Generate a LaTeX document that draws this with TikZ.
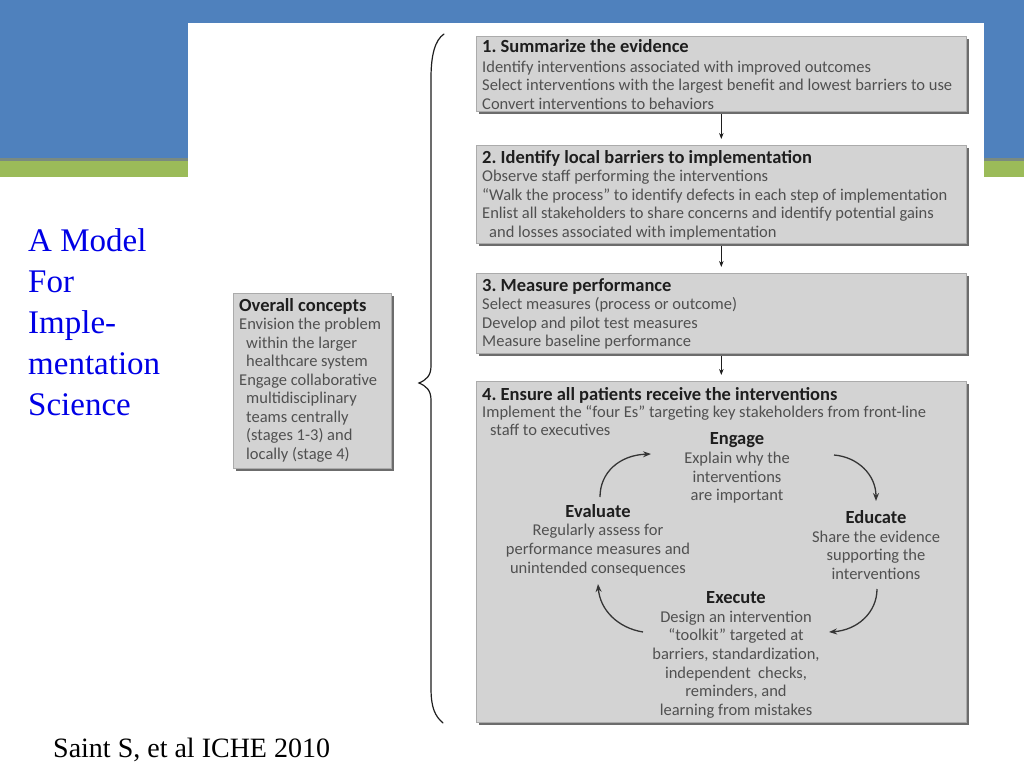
\documentclass[tikz,border=0pt]{standalone}
\usepackage{fontspec}
\setmainfont{Liberation Serif}
\newfontfamily\bx{Carlito}
\usetikzlibrary{shadows,arrows.meta}
\definecolor{bannerblue}{HTML}{4F81BD}
\definecolor{bannergreen}{HTML}{9BBB59}
\definecolor{bannergrey}{HTML}{7A8A80}
\definecolor{boxfill}{HTML}{D3D3D3}
\definecolor{boxline}{HTML}{ABABAB}
\definecolor{boxshadow}{HTML}{6C6C6C}
\definecolor{bodytext}{HTML}{505050}
\definecolor{headtext}{HTML}{1E1E1E}
\definecolor{titleblue}{HTML}{0000E6}
\frenchspacing
\begin{document}
\begin{tikzpicture}[x=1pt,y=-1pt,
  boxbase/.style={draw=boxline, fill=boxfill, line width=0.6pt, anchor=north west, inner sep=0pt,
    drop shadow={shadow xshift=2.5pt, shadow yshift=-2.5pt, fill=boxshadow, opacity=1}},
  boxtext/.style={anchor=north west, align=left, inner sep=0pt,
    font=\bx\fontsize{16.5}{18.5}\selectfont, text=bodytext},
  cyctext/.style={align=center, inner sep=0pt,
    font=\bx\fontsize{16.5}{18.7}\selectfont, text=bodytext},
  flow/.style={-{Stealth[length=6pt,width=4.5pt]}, line width=0.9pt, draw=headtext,
    shorten <=2.5pt, shorten >=6pt},
  cyc/.style={-{Stealth[length=8pt,width=6pt]}, line width=1.3pt, draw=headtext!90},
  brace/.style={line width=1.2pt, draw=headtext, line cap=round},
]
\newcommand{\hd}[1]{{\color{headtext}\bfseries\fontsize{18.5}{18.5}\selectfont #1}}
\useasboundingbox (0,0) rectangle (1024,768);
% slide background
\fill[white] (0,0) rectangle (1024,768);
\fill[bannerblue] (0,0) rectangle (1024,158);
\fill[bannergrey] (0,158) rectangle (1024,161);
\fill[bannergreen] (0,161) rectangle (1024,177);
\fill[white] (188,23) rectangle (984,768);

% slide title and citation
\node[anchor=north west, inner sep=0pt, align=left, text=titleblue,
  font=\fontsize{33}{41}\selectfont] (title) at (28,228.5)
  {A Model\\For\\Imple-\\mentation\\Science};
\node[anchor=base west, inner sep=0pt, font=\fontsize{28}{32}\selectfont] (cite) at (53,757)
  {Saint S, et al ICHE 2010};

% stage boxes
\node[boxbase, minimum width=490pt, minimum height=75pt] (s1) at (476,36) {};
\node[boxtext] (s1t) at (482,39)
  {\hd{1. Summarize the evidence}\\[1.5pt]
   Identify interventions associated with improved outcomes\\
   Select interventions with the largest benefit and lowest barriers to use\\
   Convert interventions to behaviors};
\node[boxbase, minimum width=490pt, minimum height=98pt] (s2) at (476,145) {};
\node[boxtext] (s2t) at (482,150)
  {\hd{2. Identify local barriers to implementation}\\
   Observe staff performing the interventions\\
   “Walk the process” to identify defects in each step of implementation\\
   Enlist all stakeholders to share concerns and identify potential gains\\
   \hspace*{7pt}and losses associated with implementation};
\node[boxbase, minimum width=490pt, minimum height=80pt] (s3) at (476,273) {};
\node[boxtext] (s3t) at (482,278)
  {\hd{3. Measure performance}\\
   Select measures (process or outcome)\\
   Develop and pilot test measures\\
   Measure baseline performance};
\node[boxbase, minimum width=490pt, minimum height=341pt] (s4) at (476,381) {};
\node[boxtext] (s4t) at (482,387)
  {\hd{4. Ensure all patients receive the interventions}\\[-1pt]
   Implement the “four Es” targeting key stakeholders from front-line\\[-1pt]
   \hspace*{8pt}staff to executives};

% overall concepts
\node[boxbase, minimum width=158pt, minimum height=175pt] (oc) at (233,293) {};
\node[boxtext] (oct) at (239,298)
  {\hd{Overall concepts}\\
   Envision the problem\\
   \hspace*{7pt}within the larger\\
   \hspace*{7pt}healthcare system\\
   Engage collaborative\\
   \hspace*{7pt}multidisciplinary\\
   \hspace*{7pt}teams centrally\\
   \hspace*{7pt}(stages 1-3) and\\
   \hspace*{7pt}locally (stage 4)};

% flow arrows between stages
\draw[flow] (s1.south) -- (s2.north);
\draw[flow] (s2.south) -- (s3.north);
\draw[flow] (s3.south) -- (s4.north);

% brace
\draw[brace] (444,34) .. controls (435,40) and (431,55) .. (431,78)
  -- (431,366) .. controls (431,376) and (426,380) .. (419,383)
  .. controls (426,386) and (431,390) .. (431,400)
  -- (431,688) .. controls (431,708) and (435,716) .. (443,723);

% four Es cycle
\node[cyctext] (engage) at (737,468)
  {\hd{Engage}\\Explain why the\\interventions\\are important};
\node[cyctext] (evaluate) at (598,540)
  {\hd{Evaluate}\\Regularly assess for\\performance measures and\\unintended consequences};
\node[cyctext] (educate) at (876,545)
  {\hd{Educate}\\Share the evidence\\supporting the\\interventions};
\node[cyctext] (execute) at (736,655)
  {\hd{Execute}\\Design an intervention\\“toolkit” targeted at\\barriers, standardization,\\independent\ \ checks,\\reminders, and\\learning from mistakes};

\coordinate (c1a) at (600,497);
\coordinate (c1b) at (651,454);
\coordinate (c2a) at (834,455);
\coordinate (c2b) at (876,501);
\coordinate (c3a) at (877,589);
\coordinate (c3b) at (829,632);
\coordinate (c4a) at (643,632);
\coordinate (c4b) at (598,584);
\draw[cyc] (c1a) .. controls (600,472) and (620,455) .. (c1b);
\draw[cyc] (c2a) .. controls (858,457) and (876,475) .. (c2b);
\draw[cyc] (c3a) .. controls (877,612) and (858,630) .. (c3b);
\draw[cyc] (c4a) .. controls (618,628) and (600,610) .. (c4b);
\end{tikzpicture}
\end{document}
